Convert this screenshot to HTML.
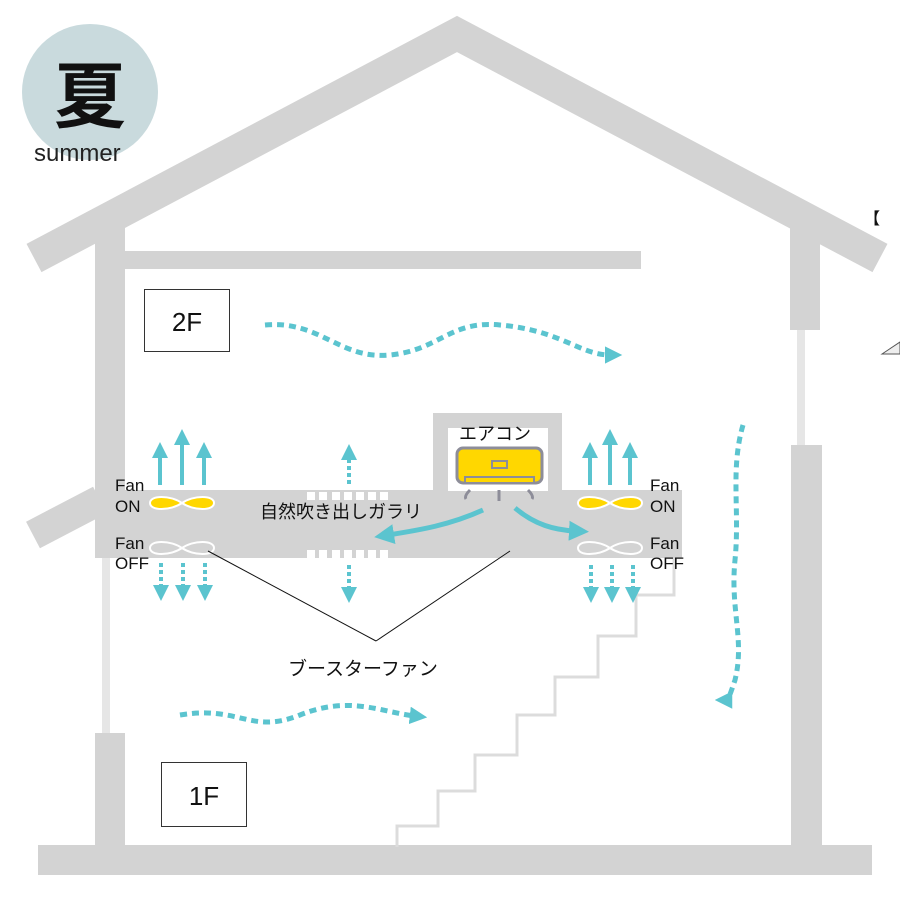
<!DOCTYPE html>
<html><head><meta charset="utf-8"><style>
html,body{margin:0;padding:0;background:#fff;}
svg{display:block;}
text{font-family:"Liberation Sans","Noto Sans CJK JP",sans-serif;}
</style></head><body>
<svg width="900" height="900" viewBox="0 0 900 900" xmlns="http://www.w3.org/2000/svg">
<defs>
<marker id="ah" viewBox="0 0 10 10" refX="5" refY="5" markerWidth="4" markerHeight="4" orient="auto"><path d="M0,0 L10,5 L0,10z" fill="#5bc4cf"/></marker>
<marker id="ah2" viewBox="0 0 10 10" refX="3" refY="5" markerWidth="3.5" markerHeight="3.5" orient="auto"><path d="M0,0 L10,5 L0,10z" fill="#5bc4cf"/></marker>
<marker id="ah3" viewBox="0 0 10 10" refX="3" refY="5" markerWidth="4" markerHeight="4" orient="auto"><path d="M0,0 L10,5 L0,10z" fill="#5bc4cf"/></marker>
</defs>
<circle cx="90" cy="92" r="68" fill="#c9dadd"/>
<text x="90" y="122" font-size="72" font-weight="bold" text-anchor="middle" fill="#111">夏</text>
<text x="34" y="161" font-size="24" fill="#222">summer</text>
<polyline points="34,258 457,34 880,258" fill="none" stroke="#d3d3d3" stroke-width="32" stroke-linejoin="miter"/>
<rect x="95" y="220" width="30" height="272" fill="#d3d3d3"/>
<rect x="102" y="556" width="8" height="180" fill="#e6e6e6"/>
<rect x="95" y="733" width="30" height="115" fill="#d3d3d3"/>
<line x1="33" y1="535" x2="100" y2="500" stroke="#d3d3d3" stroke-width="30"/>
<rect x="125" y="251" width="516" height="18" fill="#d3d3d3"/>
<rect x="790" y="225" width="30" height="105" fill="#d3d3d3"/>
<rect x="797" y="330" width="8" height="117" fill="#e6e6e6"/>
<rect x="791" y="445" width="31" height="402" fill="#d3d3d3"/>
<rect x="38" y="845" width="834" height="30" fill="#d3d3d3"/>
<rect x="95" y="490" width="587" height="68" fill="#d3d3d3"/>
<rect x="433" y="413" width="129" height="78" fill="#d3d3d3"/>
<rect x="448" y="428" width="100" height="63" fill="#fff"/>
<g fill="#fff">
<rect x="307" y="492" width="8" height="8"/><rect x="319" y="492" width="8" height="8"/><rect x="332" y="492" width="8" height="8"/><rect x="344" y="492" width="8" height="8"/><rect x="356" y="492" width="8" height="8"/><rect x="368" y="492" width="8" height="8"/><rect x="380" y="492" width="8" height="8"/>
<rect x="307" y="550" width="8" height="8"/><rect x="319" y="550" width="8" height="8"/><rect x="332" y="550" width="8" height="8"/><rect x="344" y="550" width="8" height="8"/><rect x="356" y="550" width="8" height="8"/><rect x="368" y="550" width="8" height="8"/><rect x="380" y="550" width="8" height="8"/>
</g>
<polyline points="397,847 397,826 438,826 438,791 475,791 475,755 517,755 517,715 555,715 555,677 598,677 598,636 636,636 636,595 674,595 674,558" fill="none" stroke="#dcdcdc" stroke-width="3"/>
<rect x="144.5" y="289.5" width="85" height="62" fill="#fff" stroke="#333"/>
<text x="187" y="331" font-size="26" text-anchor="middle" fill="#111">2F</text>
<rect x="161.5" y="762.5" width="85" height="64" fill="#fff" stroke="#333"/>
<text x="204" y="805" font-size="26" text-anchor="middle" fill="#111">1F</text>
<path d="M265,325 C320,320 340,360 390,355 C440,350 450,320 500,325 C560,330 580,355 610,355" fill="none" stroke="#5bc4cf" stroke-width="5" stroke-dasharray="7,5" marker-end="url(#ah2)"/>
<path d="M180,715 C240,705 250,735 300,715 C350,695 380,712 415,716" fill="none" stroke="#5bc4cf" stroke-width="5" stroke-dasharray="7,5" marker-end="url(#ah2)"/>
<path d="M743,425 C730,470 740,510 735,560 C730,610 745,640 735,680 C730,695 728,700 727,700" fill="none" stroke="#5bc4cf" stroke-width="5" stroke-dasharray="7,5" marker-end="url(#ah2)"/>
<g stroke="#5bc4cf" stroke-width="4" marker-end="url(#ah)">
<line x1="160" y1="485" x2="160" y2="450"/><line x1="182" y1="485" x2="182" y2="437"/><line x1="204" y1="485" x2="204" y2="450"/>
<line x1="590" y1="485" x2="590" y2="450"/><line x1="610" y1="485" x2="610" y2="437"/><line x1="630" y1="485" x2="630" y2="450"/>
</g>
<g stroke="#5bc4cf" stroke-width="4" stroke-dasharray="4,3" marker-end="url(#ah)">
<line x1="349" y1="484" x2="349" y2="452"/>
<line x1="161" y1="563" x2="161" y2="593"/><line x1="183" y1="563" x2="183" y2="593"/><line x1="205" y1="563" x2="205" y2="593"/>
<line x1="349" y1="565" x2="349" y2="595"/>
<line x1="591" y1="565" x2="591" y2="595"/><line x1="612" y1="565" x2="612" y2="595"/><line x1="633" y1="565" x2="633" y2="595"/>
</g>
<g stroke="#fff" stroke-width="2">
<path d="M182,503 C170,495 150,495 150,503 C150,511 170,511 182,503 C194,495 214,495 214,503 C214,511 194,511 182,503z" fill="#ffd700"/>
<path d="M182,548 C170,540 150,540 150,548 C150,556 170,556 182,548 C194,540 214,540 214,548 C214,556 194,556 182,548z" fill="none"/>
<path d="M610,503 C598,495 578,495 578,503 C578,511 598,511 610,503 C622,495 642,495 642,503 C642,511 622,511 610,503z" fill="#ffd700"/>
<path d="M610,548 C598,540 578,540 578,548 C578,556 598,556 610,548 C622,540 642,540 642,548 C642,556 622,556 610,548z" fill="none"/>
</g>
<g font-size="17" fill="#111">
<text x="115" y="491">Fan</text><text x="115" y="512">ON</text>
<text x="115" y="549">Fan</text><text x="115" y="569">OFF</text>
<text x="650" y="491">Fan</text><text x="650" y="512">ON</text>
<text x="650" y="549">Fan</text><text x="650" y="569">OFF</text>
</g>
<text x="459" y="440" font-size="18" fill="#111">エアコン</text>
<text x="260" y="518" font-size="18" fill="#111">自然吹き出しガラリ</text>
<rect x="457" y="448" width="85" height="35" rx="6" fill="#ffd700" stroke="#8d8d99" stroke-width="3"/>
<rect x="492" y="461" width="15" height="7" fill="#ffd700" stroke="#8d8d99" stroke-width="2"/>
<rect x="465" y="477" width="69" height="6" fill="#ffd700" stroke="#8d8d99" stroke-width="2"/>
<path d="M470,490 Q464,496 466,499 M499,490 L499,501 M528,490 Q534,496 532,499" stroke="#8d8d99" stroke-width="3" fill="none"/>
<path d="M483,510 C450,525 420,530 388,535" fill="none" stroke="#5bc4cf" stroke-width="5" marker-end="url(#ah3)"/>
<path d="M515,508 C535,525 555,530 575,531" fill="none" stroke="#5bc4cf" stroke-width="5" marker-end="url(#ah3)"/>
<line x1="208" y1="551" x2="376" y2="641" stroke="#111" stroke-width="1"/>
<line x1="510" y1="551" x2="376" y2="641" stroke="#111"/>
<text x="288" y="675" font-size="19" fill="#111">ブースターファン</text>
<text x="864" y="224" font-size="16" font-weight="bold" fill="#111">【</text>
<path d="M882,354 L900,342 L900,354z" fill="#eee" stroke="#555" stroke-width="1"/>
</svg>
</body></html>
